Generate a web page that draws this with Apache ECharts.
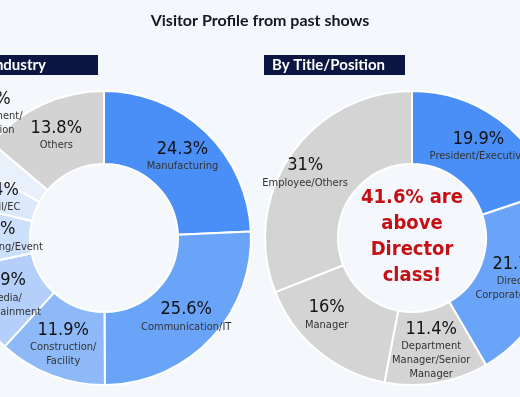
<!DOCTYPE html>
<html>
<head>
<meta charset="utf-8">
<script src="https://cdn.jsdelivr.net/npm/echarts@6/dist/echarts.min.js"></script>
<style>
  html, body { margin: 0; padding: 0; background: #f4f8fc; }
  #chart { width: 520px; height: 397px; }
</style>
</head>
<body>
<div id="chart"></div>
<script>
// 行业分布
var industryNames = ['Manufacturing', 'Communication/IT', 'Construction/\nFacility', 'Media/\nEntertainment',
  'Marketing/Event', 'Retail/EC', 'Government/\nEducation', 'Others'];
var industryValues = [24.3, 25.6, 11.9, 9.9, 7.0, 4.4, 3.1, 13.8];
// 职位分布
var titleNames = ['President/Executive', 'Director/\nCorporate Officer', 'Department\nManager/Senior\nManager', 'Manager', 'Employee/Others'];
var titleValues = [19.9, 21.7, 11.4, 16, 31];
var centerNote = ['41.6% are', 'above', 'Director', 'class!'];

var industryColors = ['#4a8ef7', '#6aa4f9', '#8db9f8', '#b3cffa', '#cde0fb', '#dce8fc', '#e8f0fb', '#d3d3d3'];
var titleColors = ['#4a8ef7', '#6aa4f9', '#d4d4d4', '#d4d4d4', '#d4d4d4'];

var FONT = '"Liberation Sans Narrow", "DejaVu Sans Condensed", "DejaVu Sans", sans-serif';

function toData(names, values, colors) {
  var arr = [];
  for (var i = 0; i < names.length; i++) {
    arr.push({ name: names[i], value: values[i], itemStyle: { color: colors[i] } });
  }
  return arr;
}

var pieLabel = {
  show: true,
  position: 'inside',
  formatter: '{p|{c}%}\n{n|{b}}',
  rich: {
    p: { fontFamily: FONT, fontSize: 18, color: '#121212', lineHeight: 21, align: 'center' },
    n: { fontFamily: FONT, fontSize: 11, color: '#333', lineHeight: 14, align: 'center' }
  }
};

// 标签微调
var leftShift = { 4: { dx: 12 }, 6: { x: -10, y: 113 } };
var rightShift = { 3: { dx: -13, dy: -11 }, 4: { dx: -13, dy: -2 } };

var chart = echarts.init(document.getElementById('chart'));
var option = {
  backgroundColor: '#f4f8fc',
  animation: false,
  title: {
    text: 'Visitor Profile from past shows',
    left: 'center',
    top: 8,
    textStyle: { fontFamily: 'Lato', fontWeight: 'bold', fontSize: 16, color: '#161622' }
  },
  graphic: [
    { type: 'rect', shape: { x: -50, y: 55, width: 148, height: 20 }, style: { fill: '#0b1642' } },
    { type: 'text', x: 46, y: 65, style: { text: 'By Industry', fill: '#fff', font: 'bold 15px Lato', textAlign: 'right', textVerticalAlign: 'middle' } },
    { type: 'rect', shape: { x: 264, y: 55, width: 141, height: 20 }, style: { fill: '#0b1642' } },
    { type: 'text', x: 272, y: 65, style: { text: 'By Title/Position', fill: '#fff', font: 'bold 15px Lato', textAlign: 'left', textVerticalAlign: 'middle' } },
    { type: 'text', x: 412, y: 237, style: { text: centerNote.join('\n'), fill: '#c40f14', font: 'bold 20px ' + FONT, lineHeight: 26, textAlign: 'center', textVerticalAlign: 'middle' } }
  ],
  series: [
    {
      type: 'pie',
      center: [104, 238],
      radius: [74, 147],
      startAngle: 90,
      clockwise: true,
      itemStyle: { borderColor: '#ffffff', borderWidth: 2 },
      label: pieLabel,
      labelLine: { show: false },
      emphasis: { disabled: true },
      labelLayout: function (p) { return leftShift[p.dataIndex] || {}; },
      data: toData(industryNames, industryValues, industryColors)
    },
    {
      type: 'pie',
      center: [412, 238],
      radius: [74, 147],
      startAngle: 90,
      clockwise: true,
      itemStyle: { borderColor: '#ffffff', borderWidth: 2 },
      label: pieLabel,
      labelLine: { show: false },
      emphasis: { disabled: true },
      labelLayout: function (p) { return rightShift[p.dataIndex] || {}; },
      data: toData(titleNames, titleValues, titleColors)
    }
  ]
};
chart.setOption(option);
</script>
</body>
</html>
